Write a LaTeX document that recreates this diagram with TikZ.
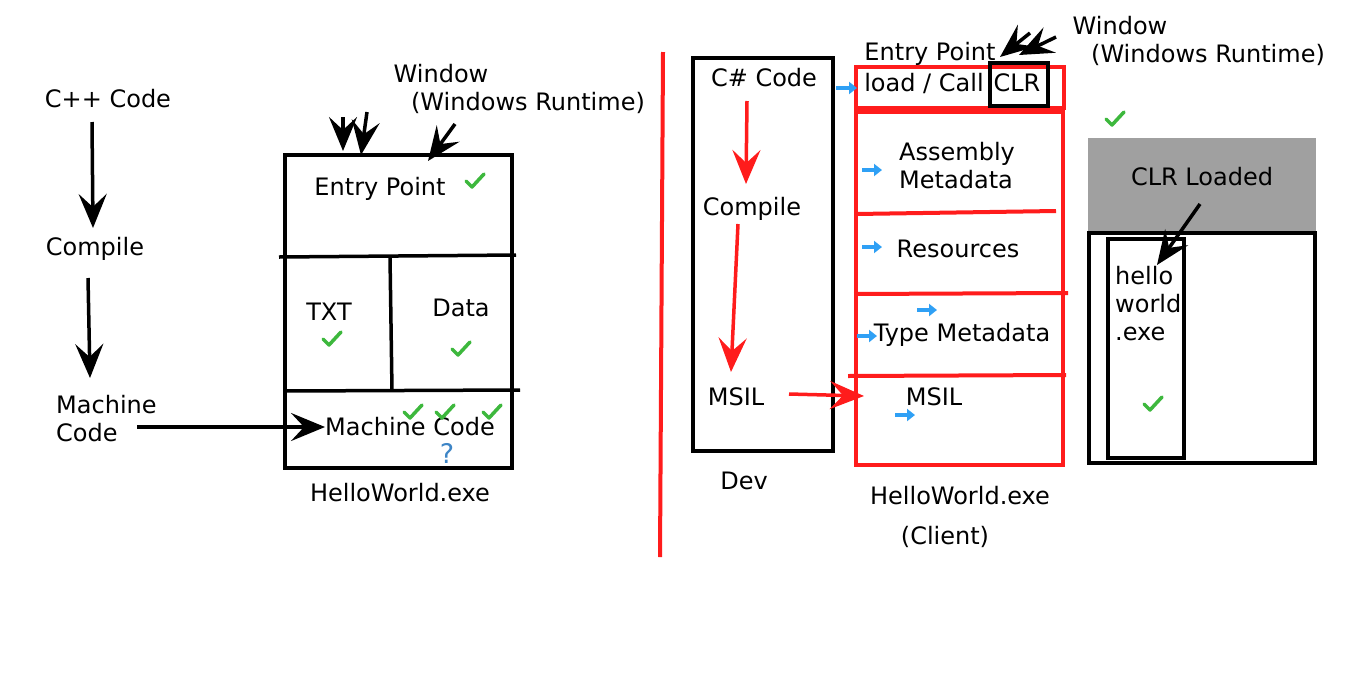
\documentclass[tikz,border=0pt]{standalone}
\usepackage{fontspec}
\setmainfont{DejaVu Sans}
\usetikzlibrary{arrows.meta}
\definecolor{myred}{HTML}{FF1C1C}
\definecolor{mygreen}{HTML}{3DB83D}
\definecolor{myblue}{HTML}{2FA0F5}
\definecolor{qblue}{HTML}{3D85C6}
\definecolor{mygray}{HTML}{A0A0A0}
\tikzset{
  lbl/.style={font=\fontsize{24}{28}\selectfont, inner sep=0pt},
  lbll/.style={lbl, anchor=west, align=left},
  blk/.style={line width=3.5pt, black},
  redl/.style={line width=4pt, myred},
  barrow/.style={line width=3.5pt, -{Stealth[length=34pt,width=28pt,inset=13pt]}},
  rarrow/.style={line width=3.5pt, myred, -{Stealth[length=34pt,width=28pt,inset=13pt]}},
  bluearrow/.style={line width=3.5pt, myblue, -{Triangle[length=8pt,width=12pt]}},
  chk/.style={line width=3.5pt, mygreen, line cap=round, line join=round},
}
\newcommand{\chkmark}[2]{\draw[chk] (#1-9,#2) -- (#1-3,#2+6) -- (#1+9,#2-7);}
\begin{document}
\begin{tikzpicture}[x=1pt,y=-1pt]
\useasboundingbox (0,0) rectangle (1366,697);
\fill[white] (0,0) rectangle (1366,697);

% ---------- left panel ----------
\node[lbl] (cpp) at (108,99) {C++ Code};
\node[lbl] (comp1) at (95,249) {Compile};
\node[lbll] (mc1) at (56,419) {Machine\\Code};
\coordinate (a1s) at (92,122); \coordinate (a1e) at (93,228);
\coordinate (a2s) at (88,278); \coordinate (a2e) at (90,378);
\draw[barrow] (a1s) -- (a1e);
\draw[barrow] (a2s) -- (a2e);

\draw[blk] (285,155) rectangle (512,468);
\draw[blk] (279,257) -- (516,255);
\draw[blk] (390,257) -- (392,391);
\draw[blk] (285,391) -- (520,390);

\node[lbl] (ep1) at (380,189) {Entry Point};
\node[lbl] (txt) at (329,312) {TXT};
\node[lbl] (data) at (461,308) {Data};
\node[lbl] (mc2) at (410,427) {Machine Code};
\node[lbl, text=qblue, font=\fontsize{27}{30}\selectfont] (q) at (447,453) {?};
\node[lbl] (hw1) at (400,493) {HelloWorld.exe};
\draw[barrow] (137,427) -- (mc2.west);

\chkmark{475}{181}
\chkmark{332}{339}
\chkmark{461}{349}
\chkmark{413}{412}
\chkmark{445}{412}
\chkmark{492}{412}

\node[lbl] (win1) at (441,74) {Window};
\node[lbl] (wrt1) at (528,103) {(Windows Runtime)};
\draw[barrow] (343,117) -- (343,151);
\draw[barrow] (367,112) -- (361,155);
\draw[barrow] (455,124) -- (428,161);

% ---------- separator ----------
\draw[redl] (663,52) -- (660,557);

% ---------- dev box ----------
\draw[blk] (693,58) rectangle (833,451);
\node[lbl] (cs) at (764,78) {C\# Code};
\node[lbl] (comp2) at (752,209) {Compile};
\node[lbl] (msil1) at (736,397) {MSIL};
\node[lbl] (dev) at (744,481) {Dev};
\draw[rarrow] (747,101) -- (746,184);
\draw[rarrow] (738,224) -- (731,372);
\draw[rarrow] (789,394) -- (864,396);

% ---------- client exe ----------
\draw[redl] (856,67) rectangle (1064,108);
\draw[redl] (856,112) rectangle (1063,465);
\draw[redl] (856,214) -- (1056,211);
\draw[redl] (854,294) -- (1068,293);
\draw[redl] (848,376) -- (1066,375);

\node[lbl] (ep2) at (930,54) {Entry Point};
\node[lbl] (load) at (924,83) {load / Call};
\draw[blk] (990,63) rectangle (1048,106);
\node[lbl] (clr) at (1017,83) {CLR};
\node[lbll] (asm) at (899,166) {Assembly\\Metadata};
\node[lbl] (res) at (958,249) {Resources};
\node[lbl] (tm) at (962,335) {Type Metadata};
\node[lbl] (msil2) at (934,397) {MSIL};
\node[lbl] (hw2) at (960,496) {HelloWorld.exe};
\node[lbl] (client) at (945,537) {(Client)};

\draw[bluearrow] (836,88) -- (857,88);
\draw[bluearrow] (862,170) -- (882,170);
\draw[bluearrow] (862,247) -- (882,247);
\draw[bluearrow] (917,310) -- (937,310);
\draw[bluearrow] (857,336) -- (877,336);
\draw[bluearrow] (895,415) -- (915,415);

\node[lbl] (win2) at (1120,26) {Window};
\node[lbl] (wrt2) at (1208,55) {(Windows Runtime)};
\draw[barrow] (1030,33) -- (1000,57);
\draw[barrow] (1056,37) -- (1019,55);

\chkmark{1115}{119}

% ---------- CLR loaded ----------
\fill[mygray] (1088,138) rectangle (1316,232);
\node[lbl] (clrl) at (1202,177) {CLR Loaded};
\draw[blk] (1089,233) rectangle (1315,463);
\draw[blk] (1108,239) rectangle (1184,458);
\node[lbll] (hello) at (1115,304) {hello\\world\\.exe};
\draw[barrow] (1200,204) -- (1157,265);
\chkmark{1153}{404}
\end{tikzpicture}
\end{document}
